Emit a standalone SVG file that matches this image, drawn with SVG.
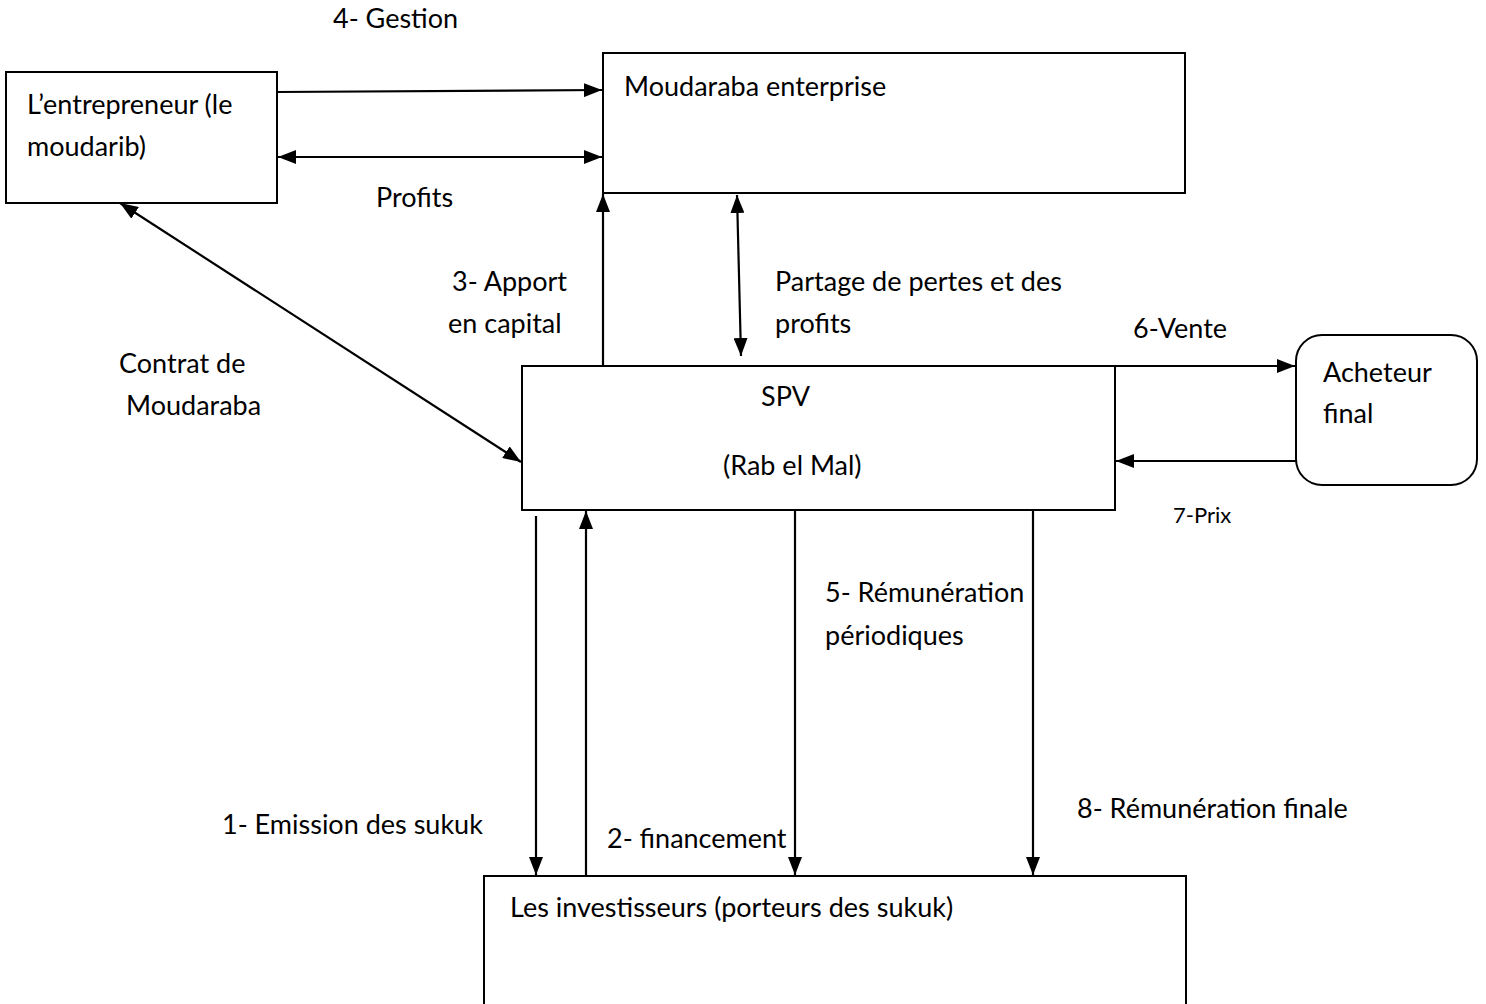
<svg xmlns="http://www.w3.org/2000/svg" width="1486" height="1004" viewBox="0 0 1486 1004">
<style>
.box{fill:#fff;stroke:#000;stroke-width:2}
.t{font-family:Lato,"Open Sans",sans-serif;font-size:27px;fill:#000}
.s{font-family:Lato,"Open Sans",sans-serif;font-size:22px;fill:#000}
.c{stroke:#000;stroke-width:2.2;fill:none}
</style>
<defs>
<marker id="ah" viewBox="0 0 18 14" refX="18" refY="7" markerWidth="18" markerHeight="14" markerUnits="userSpaceOnUse" orient="auto-start-reverse">
<path d="M0,0 L18,7 L0,14 Z" fill="#000"/>
</marker>
</defs>
<rect width="1486" height="1004" fill="#fff"/>
<g id="entrepreneur">
<rect class="box" x="6" y="72" width="271" height="131"/>
<text class="t" x="27" y="114">L’entrepreneur (le</text>
<text class="t" x="27" y="156">moudarib)</text>
</g>
<g id="moudaraba">
<rect class="box" x="603" y="53" width="582" height="140"/>
<text class="t" x="624" y="96">Moudaraba enterprise</text>
</g>
<g id="spv">
<rect class="box" x="522" y="366" width="593" height="144"/>
<text class="t" x="761" y="406">SPV</text>
<text class="t" x="723" y="475">(Rab el Mal)</text>
</g>
<g id="acheteur">
<rect class="box" x="1296" y="335" width="181" height="150" rx="26"/>
<text class="t" x="1323" y="382">Acheteur</text>
<text class="t" x="1323" y="423">final</text>
</g>
<g id="investisseurs">
<rect class="box" x="484" y="876" width="702" height="140"/>
<text class="t" x="510" y="917">Les investisseurs (porteurs des sukuk)</text>
</g>
<g id="connectors">
<line class="c" x1="277" y1="92" x2="602" y2="90" marker-end="url(#ah)"/>
<line class="c" x1="278" y1="157" x2="602" y2="157" marker-start="url(#ah)" marker-end="url(#ah)"/>
<line class="c" x1="120" y1="203" x2="521" y2="462" marker-start="url(#ah)" marker-end="url(#ah)"/>
<line class="c" x1="603" y1="366" x2="603" y2="194" marker-end="url(#ah)"/>
<line class="c" x1="737" y1="195" x2="741" y2="356" marker-start="url(#ah)" marker-end="url(#ah)"/>
<line class="c" x1="1115" y1="366" x2="1295" y2="366" marker-end="url(#ah)"/>
<line class="c" x1="1296" y1="461" x2="1116" y2="461" marker-end="url(#ah)"/>
<line class="c" x1="536" y1="516" x2="536" y2="875" marker-end="url(#ah)"/>
<line class="c" x1="586" y1="876" x2="586" y2="511" marker-end="url(#ah)"/>
<line class="c" x1="795" y1="510" x2="795" y2="875" marker-end="url(#ah)"/>
<line class="c" x1="1033" y1="510" x2="1033" y2="875" marker-end="url(#ah)"/>
<text class="t" x="333" y="28">4- Gestion</text>
<text class="t" x="376" y="207">Profits</text>
<text class="t" x="119" y="373">Contrat de</text>
<text class="t" x="126" y="415">Moudaraba</text>
<text class="t" x="452" y="291">3- Apport</text>
<text class="t" x="448" y="333">en capital</text>
<text class="t" x="775" y="291">Partage de pertes et des</text>
<text class="t" x="775" y="333">profits</text>
<text class="t" x="1133" y="338">6-Vente</text>
<text class="s" x="1173" y="523">7-Prix</text>
<text class="t" x="825" y="602">5- Rémunération</text>
<text class="t" x="825" y="645">périodiques</text>
<text class="t" x="1077" y="818">8- Rémunération finale</text>
<text class="t" x="222" y="834">1- Emission des sukuk</text>
<text class="t" x="607" y="848">2- financement</text>
</g>
</svg>
